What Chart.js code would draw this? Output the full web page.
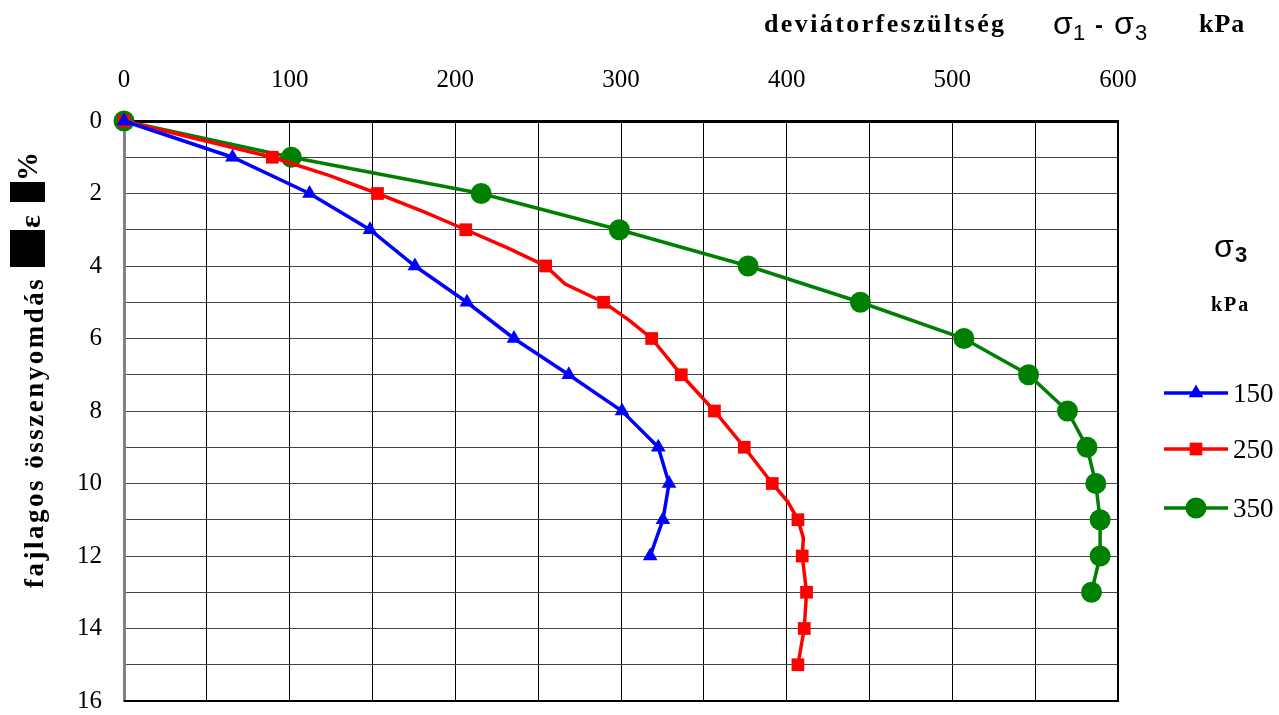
<!DOCTYPE html>
<html>
<head>
<meta charset="utf-8">
<script src="https://cdn.jsdelivr.net/npm/chart.js@4.4.1/dist/chart.umd.min.js"></script>
<style>
  html, body { margin: 0; padding: 0; background: #fff; }
  #wrap { width: 1279px; height: 715px; position: relative; }
</style>
</head>
<body>
<div id="wrap"><canvas id="chart" width="1279" height="715"></canvas></div>
<script>
// fajlagos összenyomdás (%) - deviátorfeszültség (kPa)
const seriesNames = ['150', '250', '350'];

const blueStrain = [0, 1, 2, 3, 4, 5, 6, 7, 8, 9, 10, 11, 12];
const blueStress = [0, 65.5, 112, 148.5, 175.6, 207, 235.4, 268.5, 300.6, 322.5, 329, 325.3, 317.6];

const redStrain = [0, 1, 1.5, 2, 2.5, 3, 3.5, 4, 4.5, 5, 5.5, 6, 7, 8, 9, 10, 10.5, 11, 11.5, 12, 13, 14, 15];
const redStress = [0, 89.5, 123.7, 153, 180.8, 206.3, 231.5, 254.5, 266.3, 289.5, 305, 318.5, 336.4, 356.4, 374.4, 391.3, 400.6, 406.8, 410.1, 409.4, 412, 410.6, 406.8];

const greenStrain = [0, 1, 2, 3, 4, 5, 6, 7, 8, 9, 10, 11, 12, 13];
const greenStress = [0, 101, 215.6, 299, 376.7, 444.5, 507, 546, 569.5, 581.3, 586.6, 589.2, 589.2, 584];

const xTickLabels = [0, 100, 200, 300, 400, 500, 600];
const yTickLabels = [0, 2, 4, 6, 8, 10, 12, 14, 16];

const serif = '"Liberation Serif", "Times New Roman", serif';
const sans = '"Liberation Sans", Arial, sans-serif';

function pts(xs, ys) {
  return xs.map((y, i) => ({ x: ys[i], y: y }));
}

// feliratok, jelmagyarázat
const decorPlugin = {
  id: 'decor',
  afterDraw(chart) {
    const ctx = chart.ctx;
    const a = chart.chartArea;
    ctx.save();

    // jobb és alsó keret
    ctx.strokeStyle = '#000';
    ctx.lineWidth = 2;
    ctx.beginPath();
    ctx.moveTo(a.right, a.top);
    ctx.lineTo(a.right, a.bottom);
    ctx.lineTo(a.left, a.bottom);
    ctx.stroke();

    ctx.fillStyle = '#000';
    ctx.textBaseline = 'alphabetic';
    ctx.textAlign = 'left';

    // x tengely cím
    ctx.font = 'bold 26px ' + serif;
    ctx.letterSpacing = '2.4px';
    ctx.fillText('deviátorfeszültség', 764, 32);
    ctx.letterSpacing = '0px';

    ctx.font = '32px ' + sans;
    ctx.fillText('σ', 1053, 34);
    ctx.font = '22px ' + sans;
    ctx.fillText('1', 1073, 40);
    ctx.font = 'bold 24px ' + sans;
    ctx.fillText('-', 1095, 33);
    ctx.font = '32px ' + sans;
    ctx.fillText('σ', 1114, 34);
    ctx.font = '22px ' + sans;
    ctx.fillText('3', 1135, 40);

    ctx.font = 'bold 26px ' + serif;
    ctx.letterSpacing = '1px';
    ctx.fillText('kPa', 1199, 32);
    ctx.letterSpacing = '0px';

    // y tengely cím (függőleges)
    ctx.save();
    ctx.translate(43, 0);
    ctx.rotate(-Math.PI / 2);
    ctx.font = 'bold 27px ' + serif;
    ctx.letterSpacing = '2.5px';
    ctx.fillText('fajlagos összenyomdás', -588, 0);
    ctx.letterSpacing = '0px';
    ctx.restore();

    ctx.save();
    ctx.translate(40, 0);
    ctx.rotate(-Math.PI / 2);
    ctx.font = 'bold 30px ' + serif;
    ctx.fillText('ε', -228, 0);
    ctx.restore();

    ctx.save();
    ctx.translate(37, 0);
    ctx.rotate(-Math.PI / 2);
    ctx.font = 'bold 29px ' + serif;
    ctx.fillText('%', -181, 0);
    ctx.restore();

    ctx.fillRect(10, 230, 35, 37);
    ctx.fillRect(10, 182, 35, 20);

    // jelmagyarázat
    ctx.font = '32px ' + sans;
    ctx.fillText('σ', 1214, 257);
    ctx.font = 'bold 22px ' + sans;
    ctx.fillText('3', 1235, 262);
    ctx.font = 'bold 20px ' + serif;
    ctx.letterSpacing = '2px';
    ctx.fillText('kPa', 1211, 311);
    ctx.letterSpacing = '0px';

    const rows = [393, 449, 508];
    chart.data.datasets.forEach((ds, i) => {
      const y = rows[i];
      ctx.strokeStyle = ds.borderColor;
      ctx.lineWidth = ds.borderWidth;
      ctx.beginPath();
      ctx.moveTo(1164, y);
      ctx.lineTo(1228, y);
      ctx.stroke();
      ctx.fillStyle = ds.pointBackgroundColor;
      Chart.helpers.drawPoint(ctx, { pointStyle: ds.pointStyle, radius: ds.legendRadius, rotation: 0, borderWidth: 0 }, 1196, y);
      ctx.fillStyle = '#000';
      ctx.font = '27px ' + serif;
      ctx.fillText(seriesNames[i], 1233, y + 9);
    });

    ctx.restore();
  }
};

new Chart(document.getElementById('chart'), {
  type: 'scatter',
  data: {
    datasets: [
      {
        label: seriesNames[0],
        data: pts(blueStrain, blueStress),
        showLine: true,
        clip: false,
        borderColor: '#0000ff',
        backgroundColor: '#0000ff',
        pointBackgroundColor: '#0000ff',
        pointBorderWidth: 0,
        borderWidth: 3.5,
        pointStyle: 'triangle',
        pointRadius: 8.5,
        legendRadius: 8.5,
        tension: 0
      },
      {
        label: seriesNames[1],
        data: pts(redStrain, redStress),
        showLine: true,
        clip: false,
        borderColor: '#ff0000',
        backgroundColor: '#ff0000',
        pointBackgroundColor: '#ff0000',
        pointBorderWidth: 0,
        borderWidth: 3.5,
        pointStyle: 'rect',
        pointRadius: ctx => (ctx.raw && Number.isInteger(ctx.raw.y)) ? 9 : 0,
        legendRadius: 9,
        tension: 0
      },
      {
        label: seriesNames[2],
        data: pts(greenStrain, greenStress),
        showLine: true,
        clip: false,
        borderColor: '#008000',
        backgroundColor: '#008000',
        pointBackgroundColor: '#008000',
        pointBorderWidth: 0,
        borderWidth: 3.5,
        pointStyle: 'circle',
        pointRadius: 10.5,
        legendRadius: 10.5,
        tension: 0
      }
    ]
  },
  options: {
    responsive: false,
    animation: false,
    layout: { padding: { left: 0, top: 0, right: 161, bottom: 14 } },
    plugins: { legend: { display: false }, tooltip: { enabled: false } },
    scales: {
      x: {
        type: 'linear',
        position: 'top',
        min: 0,
        max: 600,
        afterFit: s => { s.height = 121; },
        ticks: {
          stepSize: 50,
          padding: 26,
          color: '#000',
          font: { family: serif, size: 25 },
          maxRotation: 0,
          autoSkip: false,
          callback: v => xTickLabels.includes(v) ? String(v) : ''
        },
        grid: { color: '#000', lineWidth: 1, drawTicks: false },
        border: { display: true, color: '#000', width: 3 }
      },
      y: {
        type: 'linear',
        reverse: true,
        min: 0,
        max: 16,
        afterFit: s => { s.width = 124; s.paddingTop = 0; s.paddingBottom = 0; },
        ticks: {
          stepSize: 1,
          padding: 22,
          color: '#000',
          font: { family: serif, size: 25 },
          autoSkip: false,
          callback: v => yTickLabels.includes(v) ? String(v) : ''
        },
        grid: { color: '#444', lineWidth: 1, drawTicks: false },
        border: { display: true, color: '#808080', width: 3 }
      }
    }
  },
  plugins: [decorPlugin]
});
</script>
</body>
</html>
